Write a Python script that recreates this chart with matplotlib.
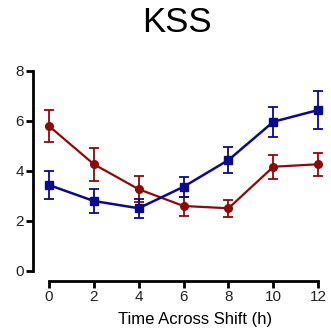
import matplotlib
matplotlib.use("Agg")
import matplotlib.pyplot as plt

# data
hours = [0, 2, 4, 6, 8, 10, 12]
red_mean = [5.8, 4.27, 3.27, 2.6, 2.51, 4.17, 4.27]
red_err = [0.65, 0.65, 0.52, 0.38, 0.35, 0.47, 0.46]
blue_mean = [3.44, 2.8, 2.51, 3.37, 4.44, 5.97, 6.44]
blue_err = [0.56, 0.47, 0.38, 0.41, 0.53, 0.6, 0.74]

red = "#8B0A0A"
blue = "#0A0A8C"

plt.rcParams["font.family"] = ["Liberation Sans", "DejaVu Sans"]

fig = plt.figure(figsize=(3.31, 3.28), dpi=100)
ax = fig.add_axes([33 / 331, 57 / 328, 292 / 331, 200 / 328])

ax.errorbar(hours, red_mean, yerr=red_err, color=red, marker="o", markersize=5.5,
            linewidth=1.6, elinewidth=1.3, capsize=3.5, capthick=1.3)
ax.errorbar(hours, blue_mean, yerr=blue_err, color=blue, marker="s", markersize=5.5,
            linewidth=1.8, elinewidth=1.3, capsize=3.5, capthick=1.3)

ax.set_xlim(-0.71, 12.3)
ax.set_ylim(0, 8)
ax.set_xticks(hours)
ax.set_yticks([0, 2, 4, 6, 8])

ax.spines["top"].set_visible(False)
ax.spines["right"].set_visible(False)
ax.spines["bottom"].set_position(("outward", 7))
ax.spines["bottom"].set_bounds(0, 12)
ax.spines["left"].set_bounds(0, 8)
for s in ["left", "bottom"]:
    ax.spines[s].set_linewidth(2)
ax.tick_params(width=2, length=5, labelsize=11, pad=1.5, labelcolor="#222222")

# rotulo do eixo x (no original fica quase cortado na borda de baixo)
ax.set_xlabel("Time Across Shift (h)", fontsize=12, va="bottom")
ax.xaxis.set_label_coords(0.555, -0.28)

# titulo
fig.text(177 / 331, 1 - 23 / 328, "KSS", fontsize=25, ha="center", va="center")

fig.savefig("out.png", dpi=100)
